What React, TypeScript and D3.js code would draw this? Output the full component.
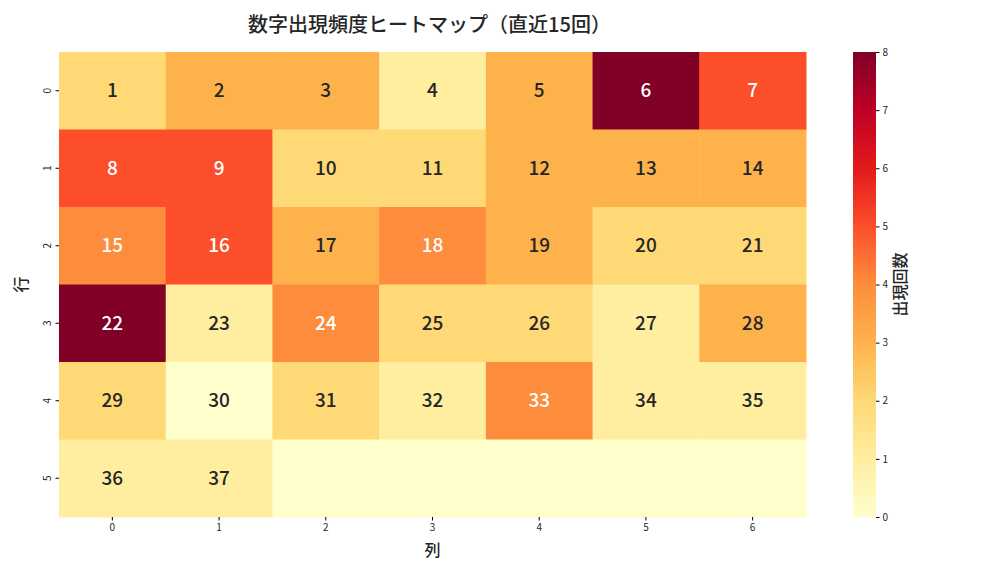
import * as d3 from "d3";
import React, { useEffect, useRef } from "react";

// 出現回数 (直近15回), 行 x 列
const rows = [0, 1, 2, 3, 4, 5];
const cols = [0, 1, 2, 3, 4, 5, 6];
const counts = [
  [2, 3, 3, 1, 3, 8, 5],
  [5, 5, 2, 2, 3, 3, 3],
  [4, 5, 3, 4, 3, 2, 2],
  [8, 1, 4, 2, 2, 1, 3],
  [2, 0, 2, 1, 4, 1, 1],
  [1, 1, 0, 0, 0, 0, 0],
];
const maxNumber = 37;
const colorTicks = [0, 1, 2, 3, 4, 5, 6, 7, 8];
const ylorrd = ["#ffffcc", "#ffeda0", "#fed976", "#feb24c", "#fd8d3c", "#fc4e2a", "#e31a1c", "#bd0026", "#800026"];

const W = 1008;
const H = 576;
const FONT = "'Noto Sans CJK JP', 'Noto Sans', sans-serif";

const App = () => {
  const ref = useRef<SVGSVGElement>(null);

  useEffect(() => {
    if (!ref.current) return;
    const svg = d3.select(ref.current);
    svg.selectAll("*").remove();

    const margin = { top: 52, left: 59 };
    const width = 747;
    const height = 465;

    const x = d3.scaleBand<number>().domain(cols).range([0, width]);
    const y = d3.scaleBand<number>().domain(rows).range([0, height]);
    const color = d3
      .scaleLinear<string>()
      .domain(colorTicks)
      .range(ylorrd)
      .interpolate(d3.interpolateRgb);

    const g = svg.append("g").attr("transform", `translate(${margin.left},${margin.top})`);

    // セル
    const cells = rows.flatMap((r) => cols.map((c) => ({ r, c, v: counts[r][c], n: r * cols.length + c + 1 })));
    g.selectAll("rect.cell")
      .data(cells)
      .enter()
      .append("rect")
      .attr("class", "cell")
      .attr("x", (d) => x(d.c)!)
      .attr("y", (d) => y(d.r)!)
      .attr("width", x.bandwidth() + 0.5)
      .attr("height", y.bandwidth() + 0.5)
      .attr("fill", (d) => color(d.v));

    g.selectAll("text.annot")
      .data(cells.filter((d) => d.n <= maxNumber))
      .enter()
      .append("text")
      .attr("class", "annot")
      .attr("x", (d) => x(d.c)! + x.bandwidth() / 2)
      .attr("y", (d) => y(d.r)! + y.bandwidth() / 2)
      .attr("dy", "0.35em")
      .attr("text-anchor", "middle")
      .attr("font-size", 19)
      .attr("font-weight", 500)
      .attr("fill", (d) => (d.v >= 4 ? "#ffffff" : "#262626"))
      .text((d) => d.n);

    // x軸
    const xAxis = g
      .append("g")
      .attr("transform", `translate(0,${height})`)
      .call(d3.axisBottom(x).tickSize(3.5).tickPadding(3));
    xAxis.select(".domain").remove();
    xAxis.selectAll("text").attr("font-size", 10).attr("font-family", FONT).attr("fill", "#262626");

    // y軸
    const yAxis = g.append("g").call(d3.axisLeft(y).tickSize(3.5).tickPadding(3));
    yAxis.select(".domain").remove();
    yAxis
      .selectAll<SVGTextElement, number>("text")
      .attr("font-size", 10)
      .attr("font-family", FONT)
      .attr("fill", "#262626")
      .attr("text-anchor", "middle")
      .attr("dy", null)
      .attr("x", null)
      .attr("transform", "translate(-13,0) rotate(-90)")
      .attr("dominant-baseline", "central");

    // ラベル
    svg
      .append("text")
      .attr("x", margin.left + width / 2)
      .attr("y", 556)
      .attr("text-anchor", "middle")
      .attr("font-size", 16)
      .attr("font-weight", 500)
      .attr("fill", "#262626")
      .text("列");
    svg
      .append("text")
      .attr("transform", `translate(27,${margin.top + height / 2}) rotate(-90)`)
      .attr("text-anchor", "middle")
      .attr("font-size", 16)
      .attr("font-weight", 500)
      .attr("fill", "#262626")
      .text("行");
    svg
      .append("text")
      .attr("x", margin.left + width / 2 - 3)
      .attr("y", 32)
      .attr("text-anchor", "middle")
      .attr("font-size", 20)
      .attr("font-weight", 500)
      .attr("fill", "#262626")
      .text("数字出現頻度ヒートマップ（直近15回）");

    // カラーバー
    const cbX = 853;
    const cbW = 23;
    const cy = d3.scaleLinear().domain([0, 8]).range([margin.top + height, margin.top]);
    const grad = svg
      .append("defs")
      .append("linearGradient")
      .attr("id", "cbgrad")
      .attr("x1", 0)
      .attr("y1", 1)
      .attr("x2", 0)
      .attr("y2", 0);
    grad
      .selectAll("stop")
      .data(colorTicks)
      .enter()
      .append("stop")
      .attr("offset", (d) => d / 8)
      .attr("stop-color", (d) => color(d));
    svg
      .append("rect")
      .attr("x", cbX)
      .attr("y", margin.top)
      .attr("width", cbW)
      .attr("height", height)
      .attr("fill", "url(#cbgrad)");
    const cAxis = svg
      .append("g")
      .attr("transform", `translate(${cbX + cbW},0)`)
      .call(d3.axisRight(cy).tickValues(colorTicks).tickSize(3.5).tickPadding(3).tickFormat(d3.format("d")));
    cAxis.select(".domain").remove();
    cAxis.selectAll("text").attr("font-size", 10).attr("font-family", FONT).attr("fill", "#262626");
    svg
      .append("text")
      .attr("transform", `translate(906,${margin.top + height / 2}) rotate(-90)`)
      .attr("text-anchor", "middle")
      .attr("font-size", 16)
      .attr("font-weight", 500)
      .attr("fill", "#262626")
      .text("出現回数");
  }, []);

  return (
    <svg
      ref={ref}
      width={W}
      height={H}
      style={{ position: "absolute", left: 0, top: 0, background: "#fff", fontFamily: FONT }}
    ></svg>
  );
};

export default App;
